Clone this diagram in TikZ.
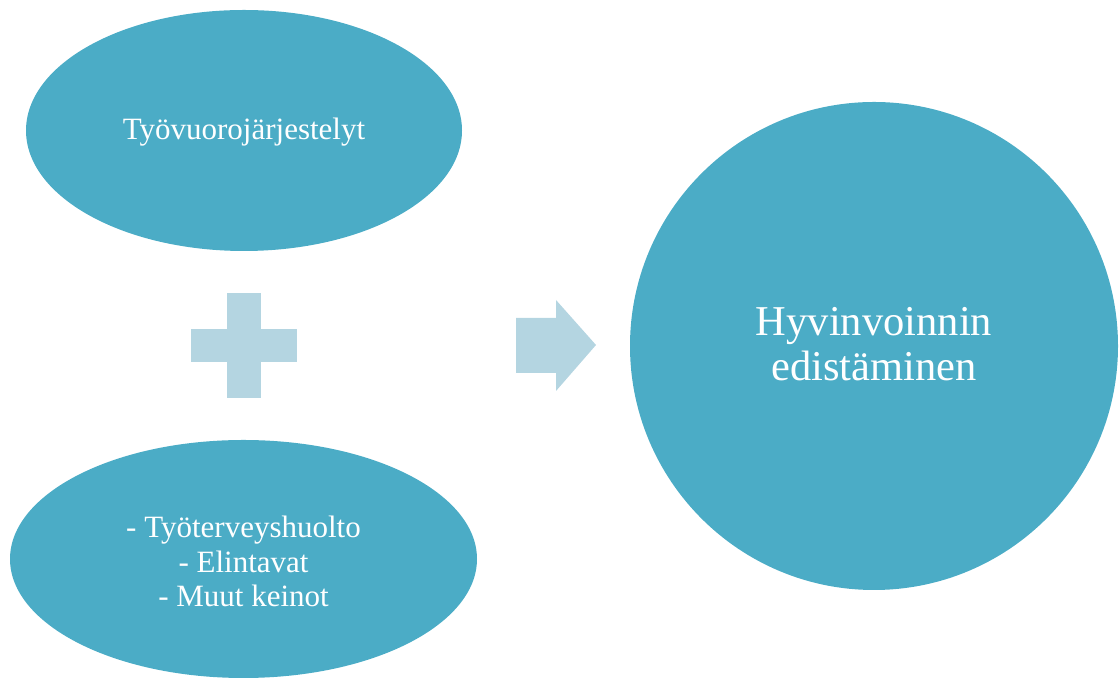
\documentclass[tikz,border=0pt]{standalone}
\usepackage{fontspec}
\setmainfont{Liberation Serif}
\usetikzlibrary{shapes.geometric}
\definecolor{teal5}{RGB}{75,172,198}
\definecolor{lightblue}{RGB}{180,213,225}
\begin{document}
\begin{tikzpicture}[x=1pt,y=1pt,
  blob/.style={ellipse,fill=teal5,draw=none,inner sep=0pt},
  ball/.style={circle,fill=teal5,draw=none,inner sep=0pt,minimum size=488pt},
  lbl/.style={text=white,inner sep=0pt,font=\fontsize{31}{34.5}\selectfont},
  biglbl/.style={text=white,inner sep=0pt,font=\fontsize{42.5}{45}\selectfont},
  lightshape/.style={fill=lightblue,draw=none}]
\useasboundingbox (0,0) rectangle (1120,679);
% shapes
\node[blob,minimum width=436pt,minimum height=241pt] (e1) at (244,548.5) {};
\node[blob,minimum width=467pt,minimum height=238pt] (e2) at (243.5,120) {};
\node[ball] (c1) at (874,333) {};
% plus sign
\fill[lightshape] (227,281) rectangle (261,386);
\fill[lightshape] (191,317) rectangle (297,350);
% arrow
\fill[lightshape] (516,306) -- (556,306) -- (556,288) -- (596,334) -- (556,379) -- (556,361) -- (516,361) -- cycle;
% texts
\node[lbl,anchor=base] (t1) at ([yshift=-9.5pt]e1.center) {Työvuorojärjestelyt};
\node[lbl,anchor=base] (b1) at ([yshift=21pt]e2.center) {- Työterveyshuolto};
\node[lbl,anchor=base] (b2) at ([yshift=-14pt]e2.center) {- Elintavat};
\node[lbl,anchor=base] (b3) at ([yshift=-48pt]e2.center) {- Muut keinot};
\node[biglbl,anchor=base] (h1) at ([yshift=10pt]c1.center) {Hyvinvoinnin};
\node[biglbl,anchor=base] (h2) at ([yshift=-35pt]c1.center) {edistäminen};
\end{tikzpicture}
\end{document}
